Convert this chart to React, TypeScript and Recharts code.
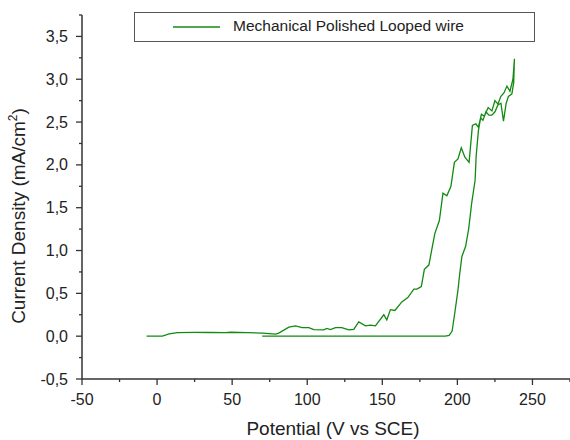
import React from 'react';
import { LineChart, Line, XAxis, YAxis, Legend } from 'recharts';

// Potential (V vs SCE) – forward scan then reverse scan (loop)
const potential = [
  -7, 3.5, 8, 13.5, 25, 35, 45.7, 49, 60, 70, 79, 81, 87.8, 92.2, 96.6, 101, 104.4, 111, 113, 115.4,
  118.8, 123, 127.7, 131, 134.3, 138.8, 142, 145.4, 151, 153, 155.4, 158.4, 163, 167, 171, 173, 176,
  178, 181, 185, 188, 190.4, 193, 195.7, 198, 200.4, 202.6, 205, 207.8, 210, 212.3, 214, 216, 218,
  220.5, 223, 225, 227, 229, 231, 233, 235, 237, 238,
  237.5, 236.3, 234, 232.5, 230.7, 229, 227, 225, 223, 221, 219, 217, 215.5, 214, 212.5, 211.8,
  209.5, 207.5, 205.5, 203, 201.5, 200.4, 198.5, 196.5, 194.5, 192, 150, 100, 70,
];

// Current density (mA/cm2)
const current = [
  0, 0, 0.027, 0.042, 0.044, 0.043, 0.042, 0.046, 0.042, 0.035, 0.023, 0.035, 0.105, 0.12, 0.1, 0.1,
  0.077, 0.073, 0.09, 0.077, 0.1, 0.1, 0.073, 0.08, 0.166, 0.12, 0.13, 0.12, 0.25, 0.19, 0.31, 0.3,
  0.4, 0.45, 0.55, 0.55, 0.58, 0.78, 0.83, 1.2, 1.35, 1.67, 1.64, 1.75, 2.03, 2.07, 2.2, 2.09, 2.03,
  2.46, 2.48, 2.44, 2.59, 2.57, 2.67, 2.63, 2.75, 2.71, 2.8, 2.84, 2.92, 2.86, 3.0, 3.24,
  2.96, 2.83, 2.8, 2.72, 2.51, 2.72, 2.7, 2.62, 2.58, 2.58, 2.62, 2.52, 2.55, 2.4, 2.1, 1.82,
  1.55, 1.25, 1.05, 0.93, 0.72, 0.54, 0.3, 0.06, 0.01, 0, 0, 0, 0,
];

const xTicks = [-50, -25, 0, 25, 50, 75, 100, 125, 150, 175, 200, 225, 250, 275];
const yTicks = [-0.5, -0.25, 0, 0.25, 0.5, 0.75, 1, 1.25, 1.5, 1.75, 2, 2.25, 2.5, 2.75, 3, 3.25, 3.5, 3.75];

const seriesName = 'Mechanical Polished Looped wire';

const data = potential.map((x, i) => ({ x, y: current[i] }));

const FONT = '"Liberation Sans", Arial, Helvetica, sans-serif';
const AXIS = '#333';
const GREEN = '#128a12';

function XTick(props: any) {
  const { x, y, payload } = props;
  const v = payload.value;
  const major = v % 50 === 0;
  return (
    <g>
      <line x1={x} x2={x} y1={y} y2={y + (major ? 6 : 3)} stroke={AXIS} strokeWidth={1.3} />
      {major && (
        <text x={x} y={y + 25.5} textAnchor="middle" fontSize={16} fontFamily={FONT} fill="#222">
          {v}
        </text>
      )}
    </g>
  );
}

function YTick(props: any) {
  const { x, y, payload } = props;
  const v = payload.value;
  const major = Math.abs(v * 2 - Math.round(v * 2)) < 1e-6 && v < 3.6;
  return (
    <g>
      <line x1={x} x2={x - (major ? 6 : 3)} y1={y} y2={y} stroke={AXIS} strokeWidth={1.3} />
      {major && (
        <text x={x - 14} y={y + 5.5} textAnchor="end" fontSize={16} fontFamily={FONT} fill="#222">
          {v.toFixed(1).replace('.', ',')}
        </text>
      )}
    </g>
  );
}

function YTitle() {
  return (
    <text
      transform="translate(25,216) rotate(-90)"
      textAnchor="middle"
      fontSize={19}
      fontFamily={FONT}
      fill="#222"
    >
      Current Density (mA/cm
      <tspan fontSize={12} dy={-8}>2</tspan>
      <tspan dy={8}>)</tspan>
    </text>
  );
}

function XTitle() {
  return (
    <text x={333} y={435} textAnchor="middle" fontSize={19} fontFamily={FONT} fill="#222">
      Potential (V vs SCE)
    </text>
  );
}

function LegendBox() {
  return (
    <div
      style={{
        width: 401,
        height: 30,
        boxSizing: 'border-box',
        border: '1px solid #555',
        position: 'relative',
        background: '#fff',
      }}
    >
      <svg width={60} height={28} style={{ position: 'absolute', left: 38, top: 0 }}>
        <line x1={0} x2={47} y1={14} y2={14} stroke={GREEN} strokeWidth={1.3} />
      </svg>
      <span
        style={{
          position: 'absolute',
          left: 98,
          top: 4,
          fontSize: 15.5,
          fontFamily: FONT,
          color: '#222',
          whiteSpace: 'nowrap',
        }}
      >
        {seriesName}
      </span>
    </div>
  );
}

export default function App() {
  return (
    <div style={{ position: 'absolute', left: 0, top: 0, width: 570, height: 440, background: '#fff' }}>
      <LineChart width={570} height={440} data={data} margin={{ top: 15, right: 0, bottom: 0, left: 0 }}>
        <XAxis
          dataKey="x"
          type="number"
          domain={[-50, 275]}
          ticks={xTicks}
          interval={0}
          height={61}
          tickSize={0}
          tickMargin={0}
          tickLine={false}
          axisLine={{ stroke: AXIS, strokeWidth: 1.5 }}
          tick={<XTick />}
          allowDataOverflow
          label={<XTitle />}
        />
        <YAxis
          dataKey="y"
          type="number"
          domain={[-0.5, 3.75]}
          ticks={yTicks}
          interval={0}
          width={82}
          tickSize={0}
          tickMargin={0}
          tickLine={false}
          axisLine={{ stroke: AXIS, strokeWidth: 1.5 }}
          tick={<YTick />}
          allowDataOverflow
          label={<YTitle />}
        />
        <Legend
          verticalAlign="middle"
          align="center"
          layout="horizontal"
          wrapperStyle={{ top: 12, left: 134, width: 401 }}
          content={() => <LegendBox />}
        />
        <Line
          type="linear"
          dataKey="y"
          name={seriesName}
          stroke={GREEN}
          strokeWidth={1.3}
          dot={false}
          isAnimationActive={false}
        />
      </LineChart>
    </div>
  );
}
